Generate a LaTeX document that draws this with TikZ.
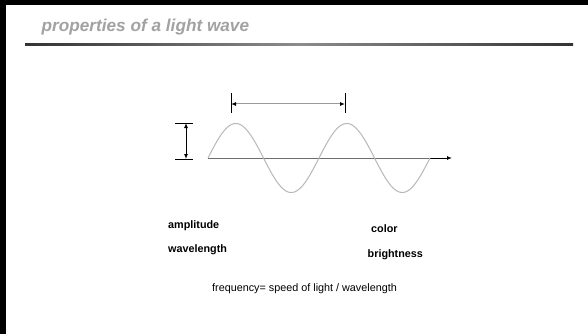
\documentclass[tikz,border=0pt]{standalone}
\usepackage{fontspec}
\setmainfont{Liberation Sans}
\usetikzlibrary{arrows.meta}
\definecolor{titlegray}{HTML}{A2A2A2}
\definecolor{wavegray}{HTML}{B8B8B8}
\definecolor{axisgray}{HTML}{6E6E6E}
\definecolor{wlgray}{HTML}{9A9A9A}
\tikzset{
  tip/.tip={Latex[length=5pt,width=4pt,color=black]},
  titletext/.style={anchor=base west, inner sep=0pt, text=titlegray, font=\fontsize{17.2}{20}\selectfont\bfseries\itshape},
  boldlabel/.style={anchor=base west, inner sep=0pt, font=\fontsize{10.8}{13}\selectfont\bfseries},
  plainlabel/.style={anchor=base west, inner sep=0pt, font=\fontsize{10.8}{13}\selectfont},
  tickline/.style={draw=black, line width=1pt},
}
\begin{document}
\begin{tikzpicture}[x=1pt,y=-1pt]
\useasboundingbox (0,0) rectangle (588,334);
\fill[white] (0,0) rectangle (588,334);
% frame bars
\fill[black] (0,0) rectangle (588,5.5);
\fill[black] (0,0) rectangle (5.5,334);
% title
\node[titletext] (title) at (41.5,32) {properties of a light wave};
\shade[left color=black!80, right color=black!80, middle color=black!45] (25,43.5) rectangle (573,45.5);
% coordinates
\coordinate (ax0) at (208,158);
\coordinate (ax1) at (430,158);
\coordinate (ax2) at (452,158);
\coordinate (wl0) at (231,104);
\coordinate (wl1) at (345,104);
\coordinate (wlt0a) at (231,93);
\coordinate (wlt0b) at (231,113);
\coordinate (wlt1a) at (345,93);
\coordinate (wlt1b) at (345,113);
\coordinate (am0) at (186,123);
\coordinate (am1) at (186,159);
\coordinate (amt0a) at (175,123);
\coordinate (amt0b) at (193,123);
\coordinate (amt1a) at (175,159);
\coordinate (amt1b) at (193,159);
% axis
\draw[axisgray, line width=0.9pt] (ax0) -- (ax1);
\draw[black, line width=0.9pt, -{Latex[length=5pt,width=4pt]}] (ax1) -- (ax2);
% wave
\draw[wavegray, line width=1pt] plot[domain=0:222, samples=160, smooth] ({208+\x},{158-34.5*sin(\x/111*360)});
% wavelength
\draw[tickline] (wlt0a) -- (wlt0b);
\draw[tickline] (wlt1a) -- (wlt1b);
\draw[wlgray, line width=1pt, {tip}-{tip}] (wl0) -- (wl1);
% amplitude
\draw[tickline] (amt0a) -- (amt0b);
\draw[tickline] (amt1a) -- (amt1b);
\draw[black, line width=1pt, {tip}-{tip}] (am0) -- (am1);
% labels
\node[boldlabel] (amp) at (168,228.3) {amplitude};
\node[boldlabel] (wl) at (168,252) {wavelength};
\node[boldlabel] (col) at (371,232) {color};
\node[boldlabel] (bri) at (367.5,257) {brightness};
\node[plainlabel] (freq) at (212,291) {frequency= speed of light / wavelength};
\end{tikzpicture}
\end{document}
